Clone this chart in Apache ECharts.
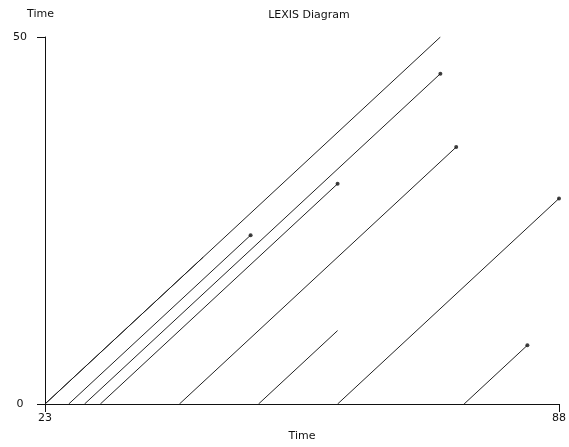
<!DOCTYPE html>
<html>
<head>
<meta charset="utf-8">
<script src="https://cdn.jsdelivr.net/npm/echarts@6/dist/echarts.min.js"></script>
<style>
html,body{margin:0;padding:0;background:#fff;}
#chart{width:569px;height:447px;}
</style>
</head>
<body>
<div id="chart"></div>
<script>
// Lexis lifelines: entry time (age 0), exit time and age at exit
const entryTimes = [23, 23, 26, 28, 30, 40, 50, 60, 76];
const exitTimes  = [73, 43, 49, 73, 60, 75, 60, 88, 84];
const exitAges   = [50, 20, 23, 45, 30, 35, 10, 28, 8];
const failed     = [false, false, true, true, true, true, false, true, true];
const xTicks = [23, 88];
const yTicks = [0, 50];

const font = 'DejaVu Sans, Verdana, sans-serif';
const ink = '#111';

const series = entryTimes.map((t, i) => ({
  type: 'line',
  data: [[t, 0], [exitTimes[i], exitAges[i]]],
  showSymbol: false,
  symbol: 'none',
  lineStyle: { color: '#222', width: 1 },
  silent: true,
  z: 2
}));
series.push({
  type: 'scatter',
  data: exitTimes.map((t, i) => [t, exitAges[i]]).filter((p, i) => failed[i]),
  symbol: 'circle',
  symbolSize: 4,
  itemStyle: { color: ink },
  silent: true,
  z: 3
});

const chart = echarts.init(document.getElementById('chart'), null, { renderer: 'canvas' });
chart.setOption({
  animation: false,
  backgroundColor: '#fff',
  title: {
    text: 'LEXIS Diagram',
    left: 304,
    textAlign: 'center',
    top: 5,
    textStyle: { fontFamily: font, fontSize: 11, fontWeight: 'normal', color: ink }
  },
  grid: { left: 45, right: 10, top: 37, bottom: 43, containLabel: false },
  xAxis: {
    type: 'value',
    min: 23,
    max: 88,
    name: 'Time',
    nameLocation: 'middle',
    nameGap: 27,
    nameTextStyle: { fontFamily: font, fontSize: 11, color: ink },
    axisLine: { show: true, onZero: false, lineStyle: { color: ink, width: 1 } },
    axisTick: { show: true, length: 8, customValues: xTicks, lineStyle: { color: ink } },
    axisLabel: { customValues: xTicks, margin: 9, fontFamily: font, fontSize: 11, color: ink },
    splitLine: { show: false }
  },
  yAxis: {
    type: 'value',
    min: 0,
    max: 50,
    interval: 50,
    name: 'Time',
    nameLocation: 'end',
    nameGap: 17,
    nameTextStyle: { fontFamily: font, fontSize: 11, color: ink, align: 'center', padding: [0, 9, 0, 0] },
    axisLine: { show: true, onZero: false, lineStyle: { color: ink, width: 1 } },
    axisTick: { show: true, length: 8, lineStyle: { color: ink } },
    axisLabel: { margin: 25, align: 'center', fontFamily: font, fontSize: 11, color: ink },
    splitLine: { show: false }
  },
  series: series
});
</script>
</body>
</html>
